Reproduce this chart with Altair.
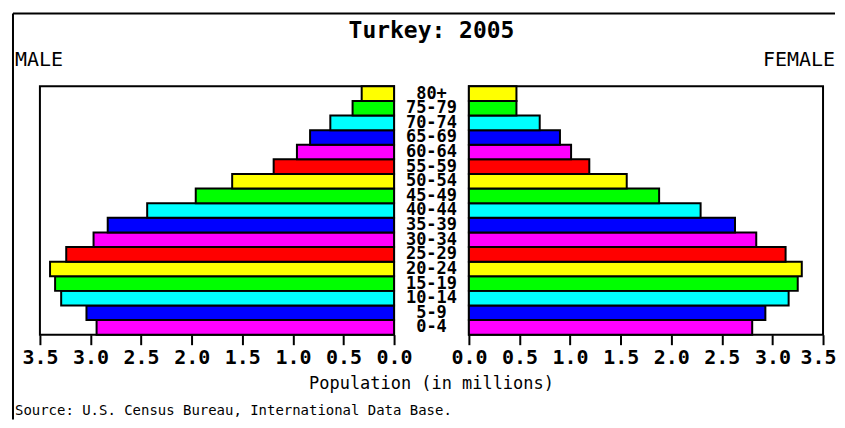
import altair as alt
import pandas as pd

# ---- data ----
ages = ["0-4", "5-9", "10-14", "15-19", "20-24", "25-29", "30-34", "35-39",
        "40-44", "45-49", "50-54", "55-59", "60-64", "65-69", "70-74", "75-79", "80+"]
male = [2.94, 3.04, 3.29, 3.35, 3.40, 3.24, 2.97, 2.83,
        2.44, 1.96, 1.60, 1.19, 0.96, 0.83, 0.63, 0.41, 0.32]
female = [2.80, 2.93, 3.16, 3.25, 3.29, 3.13, 2.84, 2.63,
          2.29, 1.88, 1.56, 1.19, 1.01, 0.90, 0.70, 0.47, 0.47]
tick_values = [0.0, 0.5, 1.0, 1.5, 2.0, 2.5, 3.0, 3.5]
palette = ["#FF00FF", "#0000FF", "#00FFFF", "#00FF00", "#FFFF00", "#FF0000"]

title_text = "Turkey: 2005"
male_text = "MALE"
female_text = "FEMALE"
axis_title_text = "Population (in millions)"
source_text = "Source: U.S. Census Bureau, International Data Base."

df = pd.DataFrame({"age": ages, "male": male, "female": female})
age_order = ages[::-1]
colors = [palette[i % len(palette)] for i in range(len(ages))]

W, H, G = 355, 249, 75
FONT = "DejaVu Sans Mono"
one = alt.Data(values=[{}])

yenc = alt.Y("age:N", sort=age_order, axis=None,
             scale=alt.Scale(paddingInner=0, paddingOuter=0))
cenc = alt.Color("age:N", scale=alt.Scale(domain=ages, range=colors), legend=None)


def xaxis(last_shift=0):
    kw = {}
    if last_shift:
        kw["labelOffset"] = {"condition": {"test": "datum.value >= 3.5",
                                           "value": last_shift}, "value": 0}
    return alt.Axis(values=tick_values, format=".1f", title=None, grid=False,
                    domain=False, ticks=True, tickColor="black", tickSize=10,
                    tickWidth=2, labelFont=FONT, labelFontSize=20,
                    labelFontWeight="bold", labelColor="black", labelPadding=3,
                    labelFlush=False, labelOverlap=False, **kw)


def txt(text, x, y, size, weight="normal", align="left"):
    return alt.Chart(one).mark_text(
        text=text, font=FONT, fontSize=size, fontWeight=weight, align=align,
        baseline="middle", color="black"
    ).encode(x=alt.value(x), y=alt.value(y))


# ---- left (male) panel ----
left_bars = alt.Chart(df).mark_bar(stroke="black", strokeWidth=2).encode(
    x=alt.X("male:Q", scale=alt.Scale(domain=[0, 3.5], reverse=True, nice=False),
            axis=xaxis()),
    y=yenc, color=cenc,
)
frame_left = alt.Chart(one).mark_rule(color="black", strokeWidth=2).encode(
    x=alt.value(-27), y=alt.value(-73), y2=alt.value(334))
frame_top = alt.Chart(one).mark_rule(color="black", strokeWidth=2).encode(
    x=alt.value(-27), x2=alt.value(797), y=alt.value(-73))
left = alt.layer(
    left_bars, frame_left, frame_top,
    txt(male_text, -25, -26, 20),
    txt(source_text, -25, 325, 14),
).properties(width=W, height=H)

# ---- middle (age labels) panel ----
mid_labels = alt.Chart(df).mark_text(
    font=FONT, fontSize=17, fontWeight="bold", align="center",
    baseline="middle", color="black"
).encode(y=yenc, text="age:N", x=alt.value(G / 2))
mid = alt.layer(
    mid_labels,
    txt(title_text, G / 2, -55, 23, weight="bold", align="center"),
    txt(axis_title_text, G / 2, 298, 17, align="center"),
).properties(width=G, height=H, view=alt.ViewBackground(stroke="transparent"))

# ---- right (female) panel ----
right_bars = alt.Chart(df).mark_bar(stroke="black", strokeWidth=2).encode(
    x=alt.X("female:Q", scale=alt.Scale(domain=[0, 3.5], nice=False),
            axis=xaxis(last_shift=-5)),
    y=yenc, color=cenc,
)
right = alt.layer(
    right_bars,
    txt(female_text, 367, -26, 20, align="right"),
).properties(width=W, height=H)

chart = alt.hconcat(left, mid, right, spacing=0, bounds="flush").properties(
    padding={"left": 3, "top": 3, "right": -1, "bottom": 0},
    background="white",
).configure_view(stroke="black", strokeWidth=2).resolve_scale(color="shared")

chart.save("out.html", embed_options={"renderer": "svg", "actions": False})
